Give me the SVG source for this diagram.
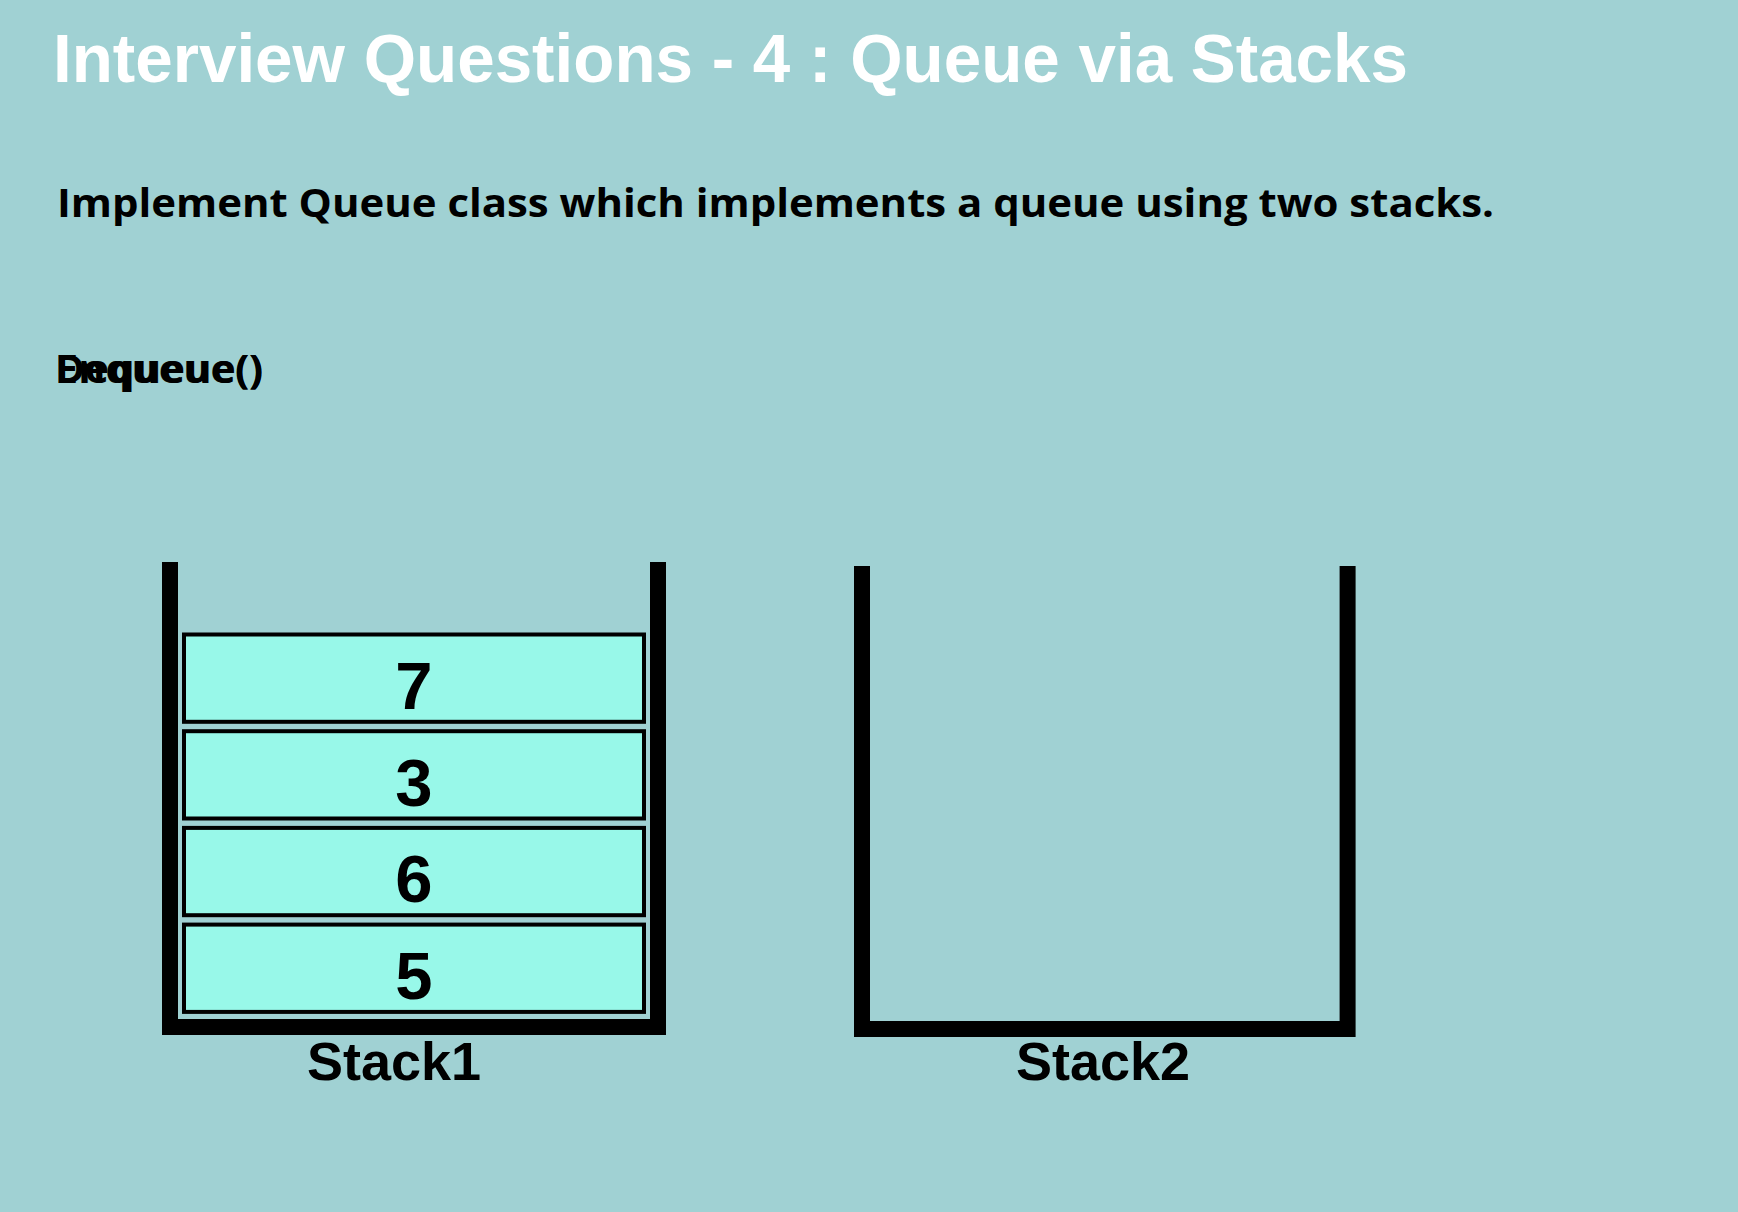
<svg xmlns="http://www.w3.org/2000/svg" width="1738" height="1212" viewBox="0 0 1738 1212">
<style>
.title{font-family:"Liberation Sans",Arial,sans-serif;font-weight:bold;font-size:68px;fill:#ffffff}
.sub{font-family:"Open Sans","DejaVu Sans",sans-serif;font-weight:bold;font-size:40px;fill:#000}
.wall{fill:none;stroke:#000;stroke-width:16;stroke-linejoin:miter;stroke-linecap:butt}
.box{fill:#98f8e9;stroke:#000;stroke-width:4}
.num{font-family:"Liberation Sans",Arial,sans-serif;font-weight:bold;font-size:67px;fill:#000;text-anchor:middle}
.lbl{font-family:"Liberation Sans",Arial,sans-serif;font-weight:bold;font-size:54px;fill:#000;text-anchor:middle}
</style>
<rect x="0" y="0" width="1738" height="1212" fill="#a0d1d3"/>
<text id="title" class="title" x="53" y="82" textLength="1355" lengthAdjust="spacingAndGlyphs">Interview Questions - 4 : Queue via Stacks</text>
<text id="subtitle" class="sub" x="57" y="217" textLength="1437" lengthAdjust="spacingAndGlyphs">Implement Queue class which implements a queue using two stacks.</text>
<g id="ops">
<text class="sub" x="55" y="383" textLength="208" lengthAdjust="spacingAndGlyphs">Enqueue()</text>
<text class="sub" x="55" y="383" textLength="208" lengthAdjust="spacingAndGlyphs">Dequeue()</text>
</g>
<g id="stack1">
<path class="wall" d="M170,562 V1027 H658 V562"/>
<text class="lbl" x="394" y="1080">Stack1</text>
</g>
<g id="item7"><rect class="box" x="184" y="634.5" width="460" height="87.3"/><text class="num" x="414" y="709">7</text></g>
<g id="item3"><rect class="box" x="184" y="731.2" width="460" height="87.3"/><text class="num" x="414" y="805.7">3</text></g>
<g id="item6"><rect class="box" x="184" y="827.9" width="460" height="87.3"/><text class="num" x="414" y="902.4">6</text></g>
<g id="item5"><rect class="box" x="184" y="924.6" width="460" height="87.3"/><text class="num" x="414" y="999">5</text></g>
<g id="stack2">
<path class="wall" d="M862,566 V1029 H1347.6 V566"/>
<text class="lbl" x="1103" y="1080">Stack2</text>
</g>
<g id="connectors"></g>
</svg>
